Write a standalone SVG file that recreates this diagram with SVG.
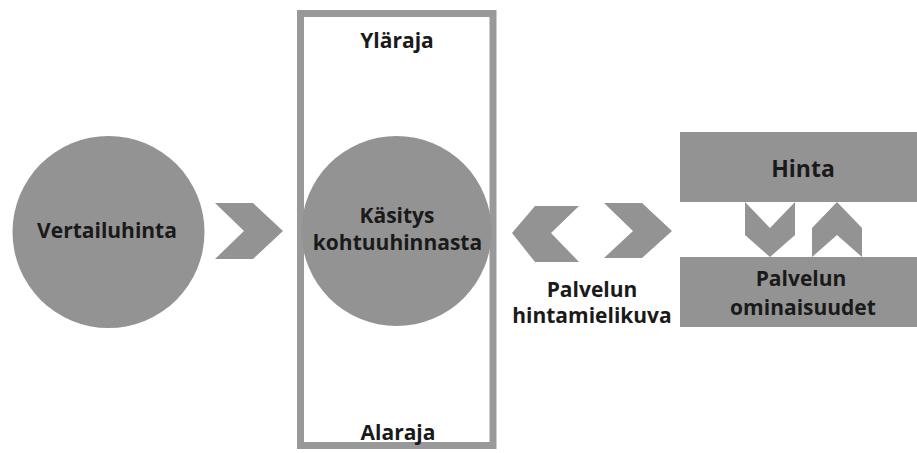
<svg xmlns="http://www.w3.org/2000/svg" width="917" height="453" viewBox="0 0 917 453">
<style>
.shape{fill:#939393}
.t{font-family:"Open Sans","Liberation Sans",sans-serif;font-weight:bold;font-size:21px;fill:#1a1a1a;text-anchor:middle}
.big{font-size:23px}
</style>
<rect width="917" height="453" fill="#ffffff"/>
<g id="range-box">
<rect x="300.5" y="13.5" width="192.5" height="432" fill="none" stroke="#999999" stroke-width="7"/>
<text class="t" x="397" y="48">Yläraja</text>
<text class="t" x="398" y="440">Alaraja</text>
</g>
<g id="vertailuhinta">
<circle class="shape" cx="108.5" cy="232" r="96"/>
<text class="t" x="107" y="238">Vertailuhinta</text>
</g>
<g id="kasitys">
<circle class="shape" cx="396.5" cy="231" r="95"/>
<text class="t" x="397" y="223">Käsitys</text>
<text class="t" x="397.5" y="250">kohtuuhinnasta</text>
</g>
<g id="hinta">
<rect class="shape" x="680" y="132" width="240" height="70"/>
<text class="t big" x="803" y="177">Hinta</text>
</g>
<g id="ominaisuudet">
<rect class="shape" x="680" y="257" width="240" height="70"/>
<text class="t" x="801" y="286">Palvelun</text>
<text class="t" x="803" y="315">ominaisuudet</text>
</g>
<g id="hintamielikuva">
<text class="t" x="592" y="297">Palvelun</text>
<text class="t" x="592" y="323">hintamielikuva</text>
</g>
<g id="connectors">
<polygon class="shape" points="215,203 253,203 283,231 253,259 215,259 244,231"/>
<polygon class="shape" points="579,206 535,206 512,233 535,262 579,262 551,233"/>
<polygon class="shape" points="604,203 642,203 672,231 642,258 604,258 633,231"/>
<polygon class="shape" points="745,202 770,228 795,202 795,235 770,257 745,235"/>
<polygon class="shape" points="837,202 862,228 862,257 837,235 812,257 812,228"/>
</g>
</svg>
